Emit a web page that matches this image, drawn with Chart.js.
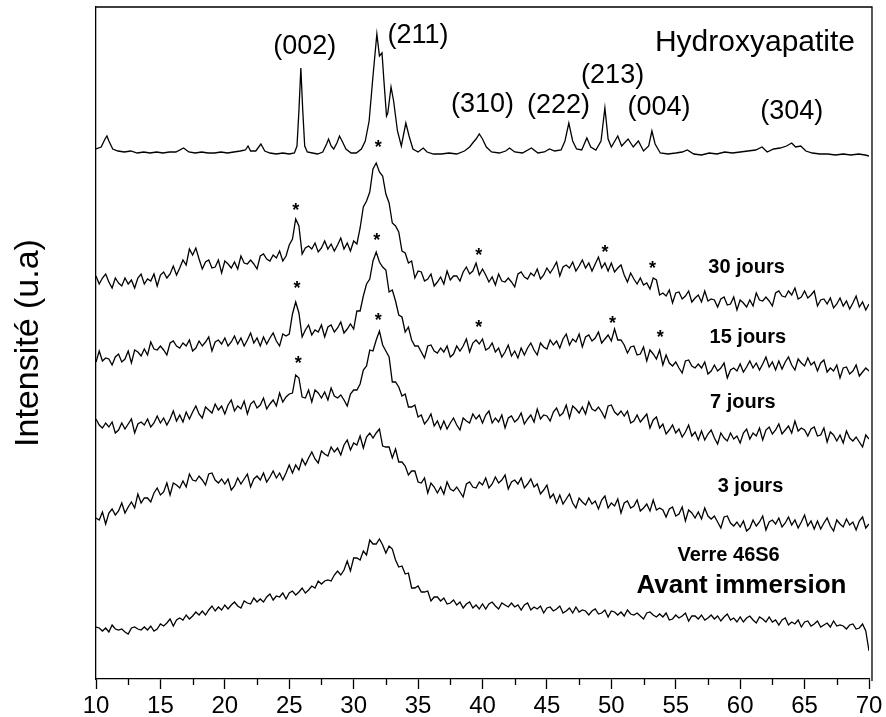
<!DOCTYPE html>
<html>
<head>
<meta charset="utf-8">
<script src="https://cdn.jsdelivr.net/npm/chart.js@4.4.1/dist/chart.umd.min.js"></script>
<style>
  html, body { margin: 0; padding: 0; background: #fff; }
  #wrap { width: 886px; height: 717px; }
</style>
</head>
<body>
<div id="wrap"><canvas id="xrd" width="886" height="717"></canvas></div>
<script>
// 2theta grid (degrees) for the measured glass patterns
const twoTheta = Array.from({ length: 241 }, (_, i) => 10 + i * 0.25);
const xTicks = [10, 15, 20, 25, 30, 35, 40, 45, 50, 55, 60, 65, 70];
const minorTicks = [12.5, 17.5, 22.5, 27.5, 32.5, 37.5, 42.5, 47.5, 52.5, 57.5, 62.5, 67.5];

// intensities (u.a), already stacked with their vertical offset
const verre = [
  52, 51, 48, 51, 47, 54, 50, 49, 50, 47, 45, 51, 52, 50, 49, 52, 49, 53, 48, 50,
  55, 53, 56, 60, 53, 59, 61, 59, 64, 60, 63, 67, 64, 68, 64, 69, 73, 68, 72, 69,
  74, 70, 74, 77, 73, 71, 78, 76, 75, 81, 77, 80, 77, 82, 85, 79, 83, 82, 86, 80,
  86, 88, 84, 87, 91, 86, 89, 93, 91, 98, 95, 98, 99, 98, 104, 108, 104, 109, 118, 108,
  121, 121, 119, 128, 124, 139, 135, 135, 140, 134, 126, 133, 130, 119, 112, 113, 105, 106, 91, 91,
  93, 87, 87, 88, 78, 82, 82, 78, 81, 75, 76, 79, 74, 77, 71, 75, 77, 71, 74, 70,
  75, 70, 75, 77, 73, 70, 76, 74, 72, 76, 72, 74, 69, 74, 76, 69, 72, 70, 73, 66,
  71, 72, 68, 70, 73, 66, 68, 71, 66, 72, 67, 69, 68, 64, 68, 70, 65, 66, 69, 62,
  68, 67, 64, 67, 63, 69, 65, 64, 66, 63, 60, 66, 67, 64, 62, 65, 62, 66, 59, 60,
  64, 61, 63, 66, 58, 63, 63, 60, 64, 59, 61, 64, 60, 63, 58, 62, 65, 59, 61, 57,
  62, 57, 61, 63, 59, 56, 62, 60, 57, 62, 57, 59, 54, 59, 61, 54, 57, 55, 59, 52,
  57, 58, 53, 55, 58, 52, 54, 56, 52, 58, 53, 54, 53, 50, 54, 55, 50, 51, 55, 48,
  28
];
const jours3 = [
  161, 159, 167, 155, 166, 170, 164, 168, 176, 166, 172, 177, 171, 185, 176, 181, 181, 177, 186, 191,
  184, 187, 196, 184, 196, 194, 191, 198, 192, 205, 199, 198, 203, 199, 194, 205, 206, 199, 196, 200,
  195, 200, 189, 193, 201, 195, 200, 205, 192, 200, 203, 199, 206, 197, 202, 208, 201, 206, 199, 206,
  214, 206, 214, 209, 220, 214, 221, 227, 220, 216, 228, 225, 223, 232, 227, 231, 224, 234, 239, 229,
  236, 234, 243, 231, 242, 246, 241, 246, 250, 233, 232, 232, 221, 230, 217, 217, 213, 204, 208, 208,
  197, 196, 201, 186, 196, 192, 186, 192, 185, 197, 190, 188, 192, 187, 182, 195, 197, 192, 191, 197,
  194, 201, 191, 195, 202, 196, 199, 204, 190, 197, 199, 195, 201, 191, 195, 200, 192, 195, 185, 189,
  194, 181, 185, 176, 184, 175, 180, 185, 176, 171, 181, 177, 174, 181, 175, 178, 170, 179, 183, 171,
  176, 173, 180, 166, 176, 178, 171, 173, 179, 168, 171, 175, 168, 179, 169, 171, 169, 162, 170, 172,
  163, 165, 172, 158, 169, 166, 161, 167, 160, 171, 163, 160, 163, 157, 151, 162, 163, 156, 153, 157,
  152, 158, 148, 151, 159, 153, 157, 163, 149, 157, 159, 155, 161, 152, 156, 162, 154, 159, 151, 157,
  164, 153, 158, 150, 158, 150, 156, 161, 153, 148, 159, 155, 152, 160, 154, 157, 149, 158, 162, 151,
  155
];
const jours7 = [
  260, 254, 251, 256, 252, 257, 246, 249, 256, 250, 255, 260, 246, 255, 257, 254, 260, 252, 256, 263,
  256, 261, 254, 260, 268, 258, 264, 257, 267, 260, 267, 273, 265, 261, 272, 269, 266, 275, 269, 273,
  265, 274, 279, 268, 273, 270, 278, 265, 275, 278, 271, 274, 281, 270, 275, 279, 273, 286, 277, 282,
  285, 286, 304, 301, 282, 281, 289, 277, 289, 286, 281, 287, 279, 291, 283, 281, 284, 279, 273, 285,
  289, 289, 295, 309, 313, 329, 328, 339, 348, 334, 328, 322, 297, 297, 292, 283, 285, 272, 272, 274,
  262, 264, 255, 259, 265, 253, 258, 250, 258, 250, 256, 261, 254, 249, 261, 258, 256, 265, 260, 264,
  256, 264, 268, 256, 261, 257, 264, 251, 261, 263, 257, 260, 266, 255, 260, 264, 257, 270, 260, 264,
  263, 258, 267, 271, 263, 266, 274, 261, 273, 270, 266, 272, 265, 277, 270, 268, 272, 267, 261, 273,
  274, 267, 264, 268, 263, 268, 256, 258, 264, 257, 261, 265, 251, 259, 262, 251, 255, 245, 249, 254,
  246, 250, 242, 247, 254, 243, 247, 239, 248, 239, 245, 249, 241, 235, 246, 241, 238, 246, 240, 243,
  236, 246, 250, 240, 246, 243, 251, 239, 249, 252, 245, 249, 255, 245, 249, 253, 246, 258, 248, 251,
  249, 243, 250, 252, 243, 244, 251, 237, 247, 244, 238, 244, 236, 248, 241, 238, 242, 237, 232, 244,
  240
];
const jours15 = [
  317, 328, 318, 321, 320, 314, 322, 325, 317, 320, 328, 316, 329, 327, 323, 330, 324, 337, 330, 329,
  333, 329, 324, 336, 338, 333, 331, 336, 333, 339, 328, 331, 338, 333, 337, 342, 328, 337, 339, 335,
  341, 333, 337, 343, 335, 341, 333, 339, 346, 336, 341, 333, 342, 335, 341, 346, 338, 333, 345, 343,
  345, 365, 377, 366, 342, 349, 354, 344, 349, 347, 354, 342, 352, 354, 347, 351, 357, 346, 350, 355,
  350, 368, 368, 383, 395, 400, 418, 427, 417, 412, 409, 387, 389, 378, 364, 362, 347, 352, 339, 333,
  333, 327, 321, 333, 334, 328, 326, 331, 327, 333, 322, 325, 333, 328, 333, 340, 327, 336, 339, 335,
  340, 329, 331, 336, 327, 331, 322, 327, 334, 323, 328, 321, 331, 324, 331, 336, 329, 324, 336, 332,
  330, 339, 334, 338, 331, 340, 345, 334, 340, 337, 345, 332, 342, 344, 338, 341, 347, 336, 340, 344,
  338, 350, 339, 339, 334, 326, 332, 333, 324, 325, 332, 318, 329, 325, 320, 329, 314, 324, 316, 313,
  317, 311, 306, 318, 319, 313, 311, 315, 311, 317, 305, 308, 314, 308, 311, 316, 301, 309, 311, 308,
  315, 307, 312, 318, 311, 316, 309, 315, 322, 312, 317, 309, 318, 310, 317, 322, 314, 309, 320, 316,
  313, 321, 314, 317, 308, 316, 319, 307, 311, 308, 314, 301, 311, 312, 305, 308, 314, 303, 307, 311,
  308
];
const jours30 = [
  403, 395, 401, 405, 397, 391, 401, 396, 393, 401, 395, 399, 391, 401, 405, 395, 400, 398, 405, 393,
  404, 407, 401, 405, 413, 404, 411, 419, 414, 430, 424, 431, 420, 410, 417, 419, 411, 412, 419, 406,
  418, 415, 411, 417, 410, 423, 416, 415, 419, 415, 410, 423, 425, 420, 418, 424, 421, 428, 418, 423,
  434, 440, 460, 453, 425, 431, 433, 430, 436, 427, 431, 438, 430, 435, 428, 434, 441, 430, 436, 428,
  438, 435, 451, 472, 478, 487, 510, 516, 507, 503, 485, 476, 456, 453, 447, 428, 426, 416, 418, 401,
  408, 407, 398, 400, 405, 393, 397, 402, 395, 408, 399, 403, 403, 398, 407, 412, 405, 408, 416, 404,
  410, 404, 397, 402, 394, 405, 398, 397, 401, 397, 392, 405, 407, 402, 400, 406, 403, 410, 400, 404,
  411, 406, 411, 417, 403, 412, 414, 411, 417, 408, 413, 419, 411, 416, 408, 415, 422, 411, 416, 408,
  416, 407, 411, 414, 404, 397, 406, 400, 395, 401, 394, 396, 390, 401, 399, 384, 386, 383, 389, 376,
  386, 387, 380, 383, 388, 377, 381, 384, 377, 388, 378, 380, 379, 372, 380, 382, 374, 375, 382, 369,
  379, 376, 372, 379, 373, 386, 379, 378, 382, 378, 373, 386, 388, 383, 382, 388, 384, 391, 380, 382,
  388, 381, 384, 388, 373, 379, 380, 375, 381, 371, 375, 381, 373, 378, 370, 376, 383, 372, 377, 369,
  375
];

// reference hydroxyapatite pattern (own, denser sampling around the sharp peaks)
const hapAngle = [
  10.0, 10.4, 10.7, 10.85, 11.0, 11.3, 11.7, 12.2, 12.7, 13.2, 13.7, 14.2, 14.7, 15.2, 15.7, 16.2, 16.8, 17.2, 17.7, 18.2,
  18.7, 19.2, 19.7, 20.2, 20.7, 21.2, 21.6, 21.8, 22.0, 22.4, 22.8, 23.1, 23.5, 24.0, 24.5, 25.0, 25.4, 25.6, 25.75, 25.9,
  26.05, 26.2, 26.4, 26.8, 27.2, 27.6, 27.9, 28.05, 28.25, 28.45, 28.7, 28.9, 29.1, 29.4, 29.8, 30.2, 30.6, 30.9, 31.2, 31.5,
  31.8, 32.0, 32.2, 32.35, 32.55, 32.65, 32.9, 33.1, 33.4, 33.7, 34.05, 34.3, 34.6, 35.0, 35.4, 35.7, 36.2, 36.8, 37.4, 38.0,
  38.6, 39.0, 39.3, 39.5, 39.75, 40.0, 40.3, 40.7, 41.3, 41.8, 42.1, 42.5, 43.1, 43.8, 44.3, 44.8, 45.2, 45.6, 46.1, 46.4,
  46.7, 47.0, 47.3, 47.7, 48.1, 48.4, 48.8, 49.2, 49.5, 49.75, 50.0, 50.5, 50.8, 51.3, 51.7, 52.1, 52.5, 52.9, 53.15, 53.4,
  53.8, 54.4, 55.0, 55.5, 55.9, 56.4, 57.0, 57.6, 58.2, 58.8, 59.4, 60.0, 60.6, 61.2, 61.7, 62.1, 62.6, 63.1, 63.6, 64.0,
  64.3, 64.7, 65.1, 65.6, 66.2, 66.8, 67.4, 68.0, 68.6, 69.2, 69.7, 70.0
];
const hapInt = [
  530, 532, 540, 543, 538, 530, 528, 527, 528, 526, 527, 526, 527, 526, 527, 527, 531, 527, 526, 527,
  526, 526, 527, 526, 527, 528, 529, 533, 528, 528, 535, 528, 526, 525, 526, 525, 526, 533, 568, 611,
  568, 533, 527, 526, 525, 527, 535, 540, 533, 530, 536, 543, 538, 530, 526, 526, 530, 538, 558, 603,
  645, 623, 626, 598, 563, 566, 592, 578, 548, 533, 556, 543, 530, 527, 531, 527, 525, 525, 526, 525,
  528, 532, 537, 540, 545, 540, 532, 527, 526, 528, 531, 527, 526, 531, 526, 527, 530, 528, 529, 538,
  556, 538, 530, 529, 541, 532, 529, 538, 571, 540, 532, 543, 533, 540, 532, 538, 528, 533, 548, 535,
  526, 525, 526, 527, 529, 525, 524, 526, 525, 527, 526, 527, 528, 529, 532, 527, 530, 531, 533, 536,
  532, 533, 528, 526, 525, 525, 524, 525, 524, 525, 524, 523
];

// text placed on the plot, in data units
const peakLabels = [
  { text: '(002)', x: 26.2, y: 632 },
  { text: '(211)', x: 35.0, y: 643 },
  { text: '(310)', x: 40.0, y: 574 },
  { text: '(222)', x: 45.9, y: 573 },
  { text: '(213)', x: 50.1, y: 603 },
  { text: '(004)', x: 53.7, y: 571 },
  { text: '(304)', x: 64.0, y: 567 }
];
const curveLabels = [
  { text: 'Hydroxyapatite', x: 61.15, y: 636, font: '30px "Liberation Sans", Arial, sans-serif' },
  { text: '30 jours', x: 60.5, y: 412, font: 'bold 20px "Liberation Sans", Arial, sans-serif' },
  { text: '15 jours', x: 60.6, y: 342, font: 'bold 20px "Liberation Sans", Arial, sans-serif' },
  { text: '7 jours', x: 60.2, y: 277, font: 'bold 20px "Liberation Sans", Arial, sans-serif' },
  { text: '3 jours', x: 60.8, y: 193, font: 'bold 20px "Liberation Sans", Arial, sans-serif' },
  { text: 'Verre 46S6', x: 59.1, y: 124, font: 'bold 20px "Liberation Sans", Arial, sans-serif' },
  { text: 'Avant immersion', x: 60.1, y: 93, font: 'bold 26px "Liberation Sans", Arial, sans-serif' }
];
// asterisks marking the apatite reflections
const starX = [25.5, 31.9, 39.7, 49.5, 53.2, 25.6, 31.8, 39.7, 50.1, 53.8, 25.7, 31.9];
const starY = [473, 536, 428, 431, 415, 395, 443, 356, 360, 346, 320, 363];

function pts(xs, ys) {
  return ys.map((v, i) => ({ x: xs[i], y: v }));
}

const annotate = {
  id: 'annotate',
  afterDatasetsDraw(chart) {
    const { ctx, chartArea, scales: { x, y } } = chart;
    ctx.save();
    ctx.strokeStyle = '#000';
    ctx.lineWidth = 1.3;
    // top and right of the frame
    ctx.beginPath();
    ctx.moveTo(chartArea.left, chartArea.top);
    ctx.lineTo(chartArea.right + 3, chartArea.top);
    ctx.lineTo(chartArea.right + 3, chartArea.bottom + 2);
    ctx.stroke();
    // minor ticks
    ctx.beginPath();
    minorTicks.forEach(v => {
      const px = Math.round(x.getPixelForValue(v)) + 0.5;
      ctx.moveTo(px, chartArea.bottom);
      ctx.lineTo(px, chartArea.bottom + 6);
    });
    ctx.stroke();

    ctx.fillStyle = '#000';
    ctx.textAlign = 'center';
    ctx.textBaseline = 'middle';
    ctx.font = '27px "Liberation Sans", Arial, sans-serif';
    peakLabels.forEach(l => ctx.fillText(l.text, x.getPixelForValue(l.x), y.getPixelForValue(l.y)));
    curveLabels.forEach(l => {
      ctx.font = l.font;
      ctx.fillText(l.text, x.getPixelForValue(l.x), y.getPixelForValue(l.y));
    });
    ctx.textBaseline = 'alphabetic';
    ctx.font = 'bold 18px "Liberation Sans", Arial, sans-serif';
    starX.forEach((sx, i) => ctx.fillText('*', x.getPixelForValue(sx), y.getPixelForValue(starY[i]) + 10));
    ctx.restore();
  }
};

const line = { borderColor: '#000', borderWidth: 1.3, pointRadius: 0, tension: 0, fill: false };

new Chart(document.getElementById('xrd').getContext('2d'), {
  type: 'line',
  data: {
    datasets: [
      { label: 'Hydroxyapatite', data: pts(hapAngle, hapInt), ...line },
      { label: '30 jours', data: pts(twoTheta, jours30), ...line },
      { label: '15 jours', data: pts(twoTheta, jours15), ...line },
      { label: '7 jours', data: pts(twoTheta, jours7), ...line },
      { label: '3 jours', data: pts(twoTheta, jours3), ...line },
      { label: 'Verre 46S6', data: pts(twoTheta, verre), ...line }
    ]
  },
  options: {
    responsive: false,
    animation: false,
    devicePixelRatio: 1,
    layout: { padding: { top: 7, right: 17, bottom: 0, left: 0 } },
    plugins: { legend: { display: false }, tooltip: { enabled: false } },
    scales: {
      x: {
        type: 'linear',
        min: 10,
        max: 70,
        afterBuildTicks: s => { s.ticks = xTicks.map(v => ({ value: v })); },
        afterFit: s => { s.height = 38; },
        ticks: {
          color: '#000',
          font: { family: '"Liberation Sans", Arial, sans-serif', size: 24 },
          padding: 3,
          maxRotation: 0,
          autoSkip: false
        },
        grid: { display: true, drawOnChartArea: false, tickLength: 10, tickColor: '#000', tickWidth: 1.3 },
        border: { display: true, color: '#000', width: 1.3 }
      },
      y: {
        min: 0,
        max: 672,
        afterFit: s => { s.width = 96; },
        ticks: { display: false },
        grid: { display: false, drawTicks: false },
        border: { display: true, color: '#000', width: 1.3 },
        title: {
          display: true,
          text: 'Intensité (u.a)',
          color: '#000',
          font: { family: '"Liberation Sans", Arial, sans-serif', size: 34, weight: 'normal' },
          padding: { top: 8, bottom: 0 }
        }
      }
    }
  },
  plugins: [annotate]
});
</script>
</body>
</html>
